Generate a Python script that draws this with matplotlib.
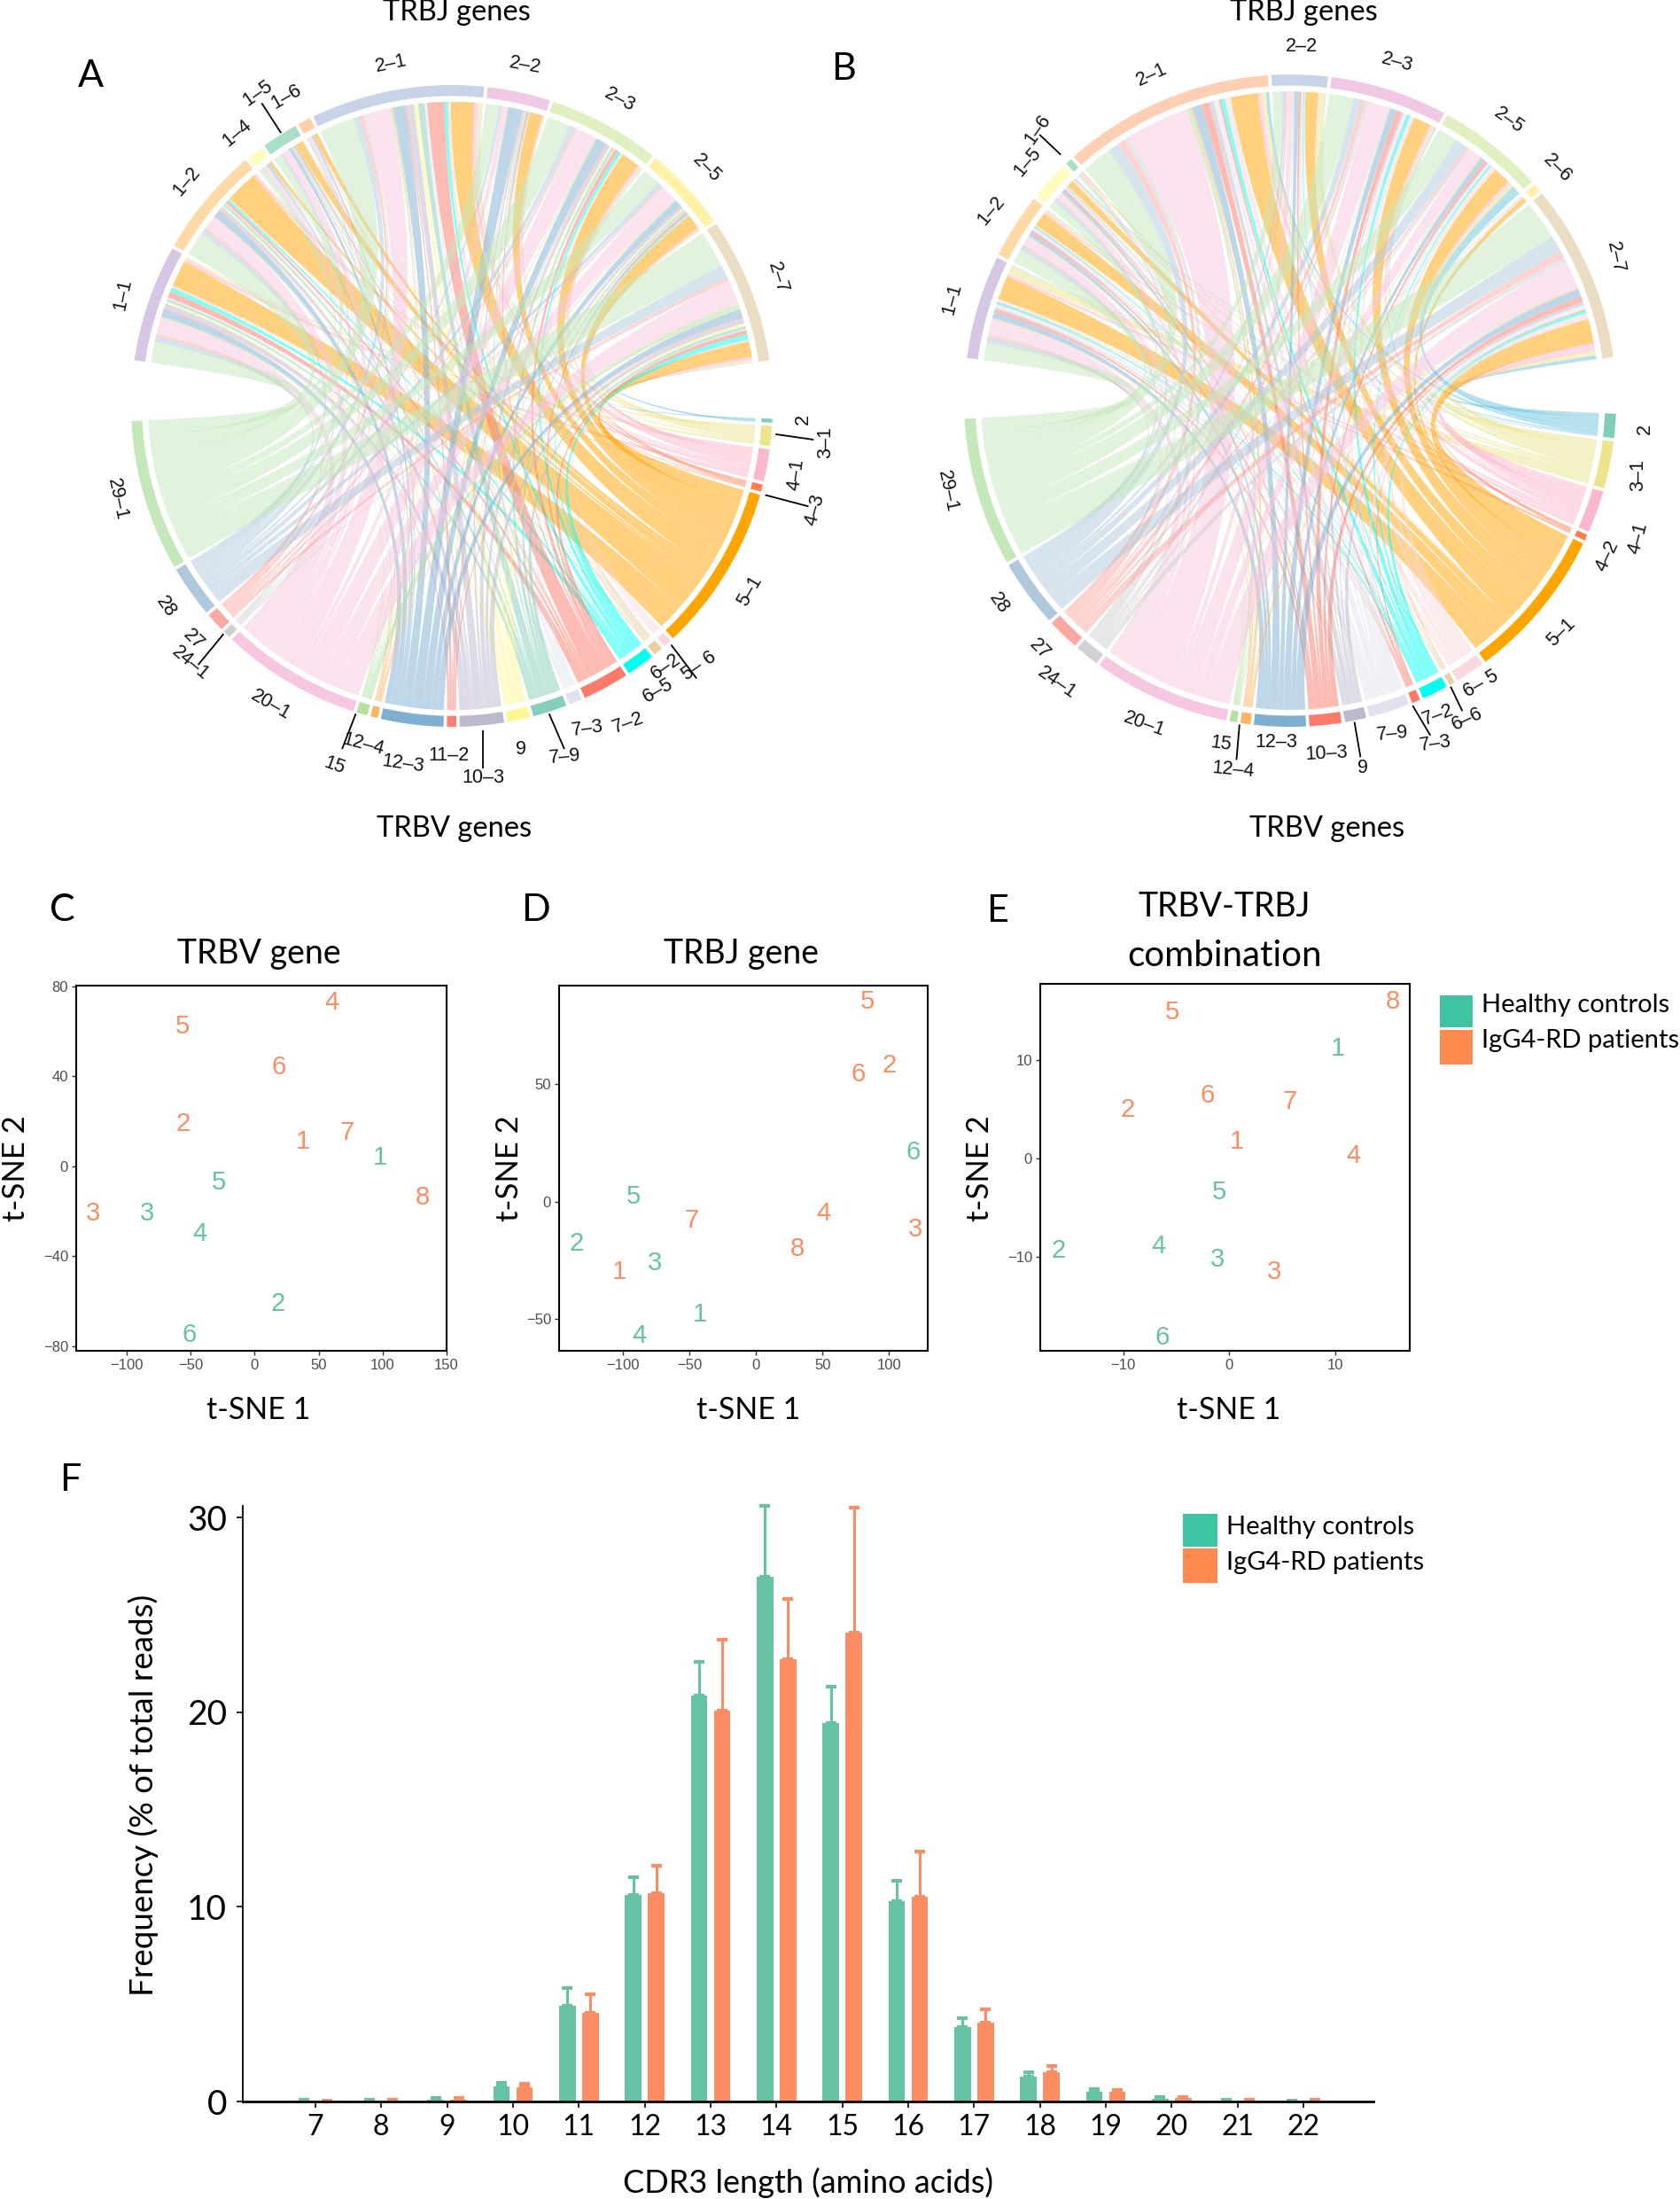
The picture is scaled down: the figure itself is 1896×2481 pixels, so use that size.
import numpy as np
import matplotlib
matplotlib.use("Agg")
import matplotlib.pyplot as plt
from matplotlib.path import Path
from matplotlib.patches import PathPatch, Rectangle

plt.rcParams['font.family'] = ['Liberation Sans', 'DejaVu Sans']
W, H = 1896, 2481
BIG = 'Lato'

# ---------------- chord data ----------------
A_J = ['1-1', '1-2', '1-4', '1-5', '1-6', '2-1', '2-2', '2-3', '2-5', '2-7']
A_J_SIZE = [21.2, 20, 3, 6.6, 2.4, 31.4, 11.4, 20.4, 15.4, 26.4]
A_V = ['2', '3-1', '4-1', '4-3', '5-1', '5-6', '6-2', '6-5', '7-2', '7-3', '7-9', '9', '10-3', '11-2',
       '12-3', '12-4', '15', '20-1', '24-1', '27', '28', '29-1']
A_V_SIZE = [0.7, 3.6, 5.8, 1.3, 30.3, 1.5, 1.7, 5.1, 8.4, 2.4, 6.2, 4.1, 8, 1.7, 11.3, 1.3, 2, 25.4, 1.4, 3.4, 9.4, 27.4]
A_LINKS = [
    [0, 4, 6, 1, 50, 2, 2, 8, 12, 3, 5, 4, 10, 2, 14, 1, 2, 30, 1, 5, 10, 40],
    [0, 2, 5, 1, 62, 1, 1, 4, 5, 2, 5, 3, 8, 1, 14, 1, 1, 25, 1, 4, 9, 45],
    [0, 0, 1, 0, 5, 0, 0, 1, 1, 0, 0, 0, 1, 0, 3, 0, 0, 8, 0, 0, 2, 8],
    [0, 1, 2, 0, 14, 0, 0, 1, 3, 0, 2, 1, 3, 0, 6, 0, 0, 14, 0, 1, 5, 14],
    [0, 0, 1, 0, 8, 0, 0, 0, 1, 0, 0, 0, 0, 0, 3, 0, 0, 6, 0, 0, 2, 3],
    [1, 6, 8, 2, 42, 3, 3, 6, 32, 5, 12, 8, 14, 3, 22, 2, 3, 50, 3, 6, 12, 65],
    [0, 2, 2, 1, 22, 1, 1, 1, 3, 1, 2, 1, 4, 1, 25, 0, 1, 10, 0, 1, 5, 24],
    [1, 4, 6, 1, 36, 2, 2, 6, 8, 2, 5, 4, 8, 2, 20, 1, 2, 40, 2, 4, 10, 45],
    [0, 3, 4, 1, 30, 1, 1, 3, 5, 2, 4, 3, 6, 1, 14, 1, 2, 35, 1, 3, 10, 35],
    [1, 4, 6, 1, 28, 2, 2, 10, 8, 2, 6, 5, 10, 2, 15, 1, 10, 45, 2, 6, 25, 70],
]
B_J = ['1-1', '1-2', '1-5', '1-6', '2-1', '2-2', '2-3', '2-5', '2-6', '2-7']
B_J_SIZE = [18.5, 11.6, 7.2, 1.2, 37.7, 10, 20.9, 19.1, 1.5, 31.7]
B_V = ['2', '3-1', '4-1', '4-2', '5-1', '6-5', '6-6', '7-2', '7-3', '7-9', '9', '10-3', '12-3', '12-4',
       '15', '20-1', '24-1', '27', '28', '29-1']
B_V_SIZE = [4.3, 8.4, 7.5, 1.1, 27.2, 5.3, 1.0, 4.6, 1.5, 7.3, 3.8, 5.7, 9.2, 1.8, 1.3, 24.5, 4.3, 5.7, 12.1, 26.5]
B_LINKS = [
    [1, 15, 4, 1, 40, 4, 1, 3, 1, 6, 3, 5, 10, 1, 1, 25, 3, 4, 8, 30],
    [1, 3, 4, 0, 24, 2, 0, 2, 1, 4, 2, 4, 6, 1, 1, 14, 2, 3, 7, 22],
    [2, 3, 3, 0, 12, 2, 0, 1, 1, 3, 1, 3, 5, 1, 1, 10, 1, 2, 7, 13],
    [0, 0, 0, 0, 2, 0, 0, 0, 0, 0, 0, 0, 0, 0, 0, 4, 0, 0, 2, 4],
    [5, 6, 6, 1, 40, 8, 1, 6, 3, 8, 7, 12, 14, 3, 6, 95, 8, 10, 18, 45],
    [1, 12, 2, 0, 24, 2, 0, 2, 0, 3, 2, 4, 8, 0, 2, 12, 1, 3, 6, 18],
    [2, 4, 6, 0, 32, 8, 0, 6, 1, 6, 4, 10, 12, 0, 2, 40, 6, 8, 14, 45],
    [16, 6, 6, 0, 30, 8, 1, 3, 0, 4, 2, 5, 8, 1, 1, 22, 3, 4, 22, 34],
    [1, 1, 0, 0, 8, 0, 0, 0, 0, 0, 0, 0, 0, 0, 0, 2, 0, 0, 0, 3],
    [7, 8, 14, 1, 42, 10, 1, 5, 2, 8, 6, 10, 14, 2, 1, 50, 8, 12, 30, 70],
]

A_J_COL = ['#D6C8E4', '#FFD9A6', '#FFFCC0', '#A9DFC6', '#FFCFA8', '#C8D3E8', '#F0C8E4', '#E0F0C0', '#FFF2A6', '#EADDC4']
A_V_COL = ['#7FCDBB', '#EDE58E', '#FBB8CA', '#FF7F50', '#FFA500', '#FBD8DC', '#E8D0A0', '#00FFF0', '#FB7A6A',
           '#E2E2EE', '#86CFBA', '#FFF890', '#BDB9CC', '#FB8072', '#7FB0D2', '#FDB462', '#B5E0A0', '#F7C6E0',
           '#D0D0D4', '#FBA8A0', '#B0C8DC', '#C5E8BB']
B_J_COL = ['#D6C8E4', '#FFD9A6', '#FFFCC0', '#A9DFC6', '#FFCFB4', '#C8D3E8', '#F0C8E4', '#E0F0C0', '#FFF2A6', '#EADDC4']
B_V_COL = ['#7FCDBB', '#EDE58E', '#FBB8CA', '#FF7F50', '#FFA500', '#FBD8DC', '#E8D0A0', '#00FFF0', '#FB7A6A',
           '#E2E2EE', '#BDB9CC', '#FB7A6A', '#7FB0D2', '#FDB462', '#B5E0A0', '#F7C6E0',
           '#D0D0D4', '#FBA8A0', '#B0C8DC', '#C5E8BB']
GENE2_CHORD = '#6CC5E0'   # links of V gene 2 are sky blue, unlike its ring

# ---------------- t-SNE data ----------------
C_OR_X = [38, -56, -126, 60, -56, 19, 72, 131]
C_OR_Y = [11, 19, -21, 73, 62, 44, 15, -14]
C_GR_X = [98, 18, -84, -43, -28, -51]
C_GR_Y = [4, -61, -21, -30, -7, -75]
D_OR_X = [-103, 100, 120, 51, 84, 77, -48, 31]
D_OR_Y = [-30, 58, -12, -5, 85, 54, -8, -20]
D_GR_X = [-42, -135, -76, -88, -92, 118]
D_GR_Y = [-48, -18, -26, -57, 2, 21]
E_OR_X = [0.7, -9.6, 4.2, 11.7, -5.4, -2.1, 5.7, 15.4]
E_OR_Y = [1.7, 5.0, -11.6, 0.3, 14.9, 6.4, 5.8, 16.0]
E_GR_X = [10.2, -16.1, -1.1, -6.7, -1.0, -6.3]
E_GR_Y = [11.2, -9.4, -10.3, -8.9, -3.4, -18.2]

# ---------------- CDR3 data ----------------
CDR3 = list(range(7, 23))
HC_MEAN = [0.05, 0.05, 0.10, 0.78, 4.94, 10.6, 20.85, 26.95, 19.45, 10.3, 3.84, 1.27, 0.49, 0.15, 0.05, 0.02]
HC_TOP = [0.08, 0.08, 0.16, 0.95, 5.82, 11.54, 22.6, 30.6, 21.3, 11.34, 4.28, 1.49, 0.66, 0.22, 0.08, 0.03]
PT_MEAN = [0.02, 0.03, 0.10, 0.71, 4.57, 10.7, 20.07, 22.7, 24.1, 10.54, 4.03, 1.49, 0.51, 0.17, 0.05, 0.05]
PT_TOP = [0.05, 0.08, 0.18, 0.93, 5.5, 12.13, 23.74, 25.8, 30.5, 12.84, 4.74, 1.83, 0.61, 0.24, 0.08, 0.09]

GREEN, ORANGE = '#66C2A5', '#FC8D62'
LEG_G, LEG_O = '#3EC4A4', '#FF8A50'

fig = plt.figure(figsize=(W / 100, H / 100), dpi=100, facecolor='white')
ov = fig.add_axes([0, 0, 1, 1], zorder=0)
ov.set_xlim(0, W); ov.set_ylim(H, 0); ov.axis('off')


def layout(sizes, start, gap=0.6):
    spans, a = [], start
    for s in sizes:
        spans.append((a, a - s))
        a -= s + gap
    return spans


def arc_pts(cx, cy, r, a0, a1, n=None):
    n = n or max(3, int(abs(a1 - a0) * 2) + 2)
    t = np.radians(np.linspace(a0, a1, n))
    return np.column_stack([cx + r * np.cos(t), cy - r * np.sin(t)])


def chord(cx, cy, r, ja, va, col):
    p1 = arc_pts(cx, cy, r, ja[0], ja[1])
    p2 = arc_pts(cx, cy, r, va[0], va[1])
    verts = list(map(tuple, p1)) + [(cx, cy), tuple(p2[0])] + list(map(tuple, p2[1:])) + [(cx, cy), tuple(p1[0])]
    codes = [Path.MOVETO] + [Path.LINETO] * (len(p1) - 1) + [Path.CURVE3, Path.CURVE3] + \
            [Path.LINETO] * (len(p2) - 1) + [Path.CURVE3, Path.CURVE3]
    ov.add_patch(PathPatch(Path(verts, codes), facecolor=col, edgecolor='none', alpha=0.5, lw=0))


def ring(cx, cy, r0, r1, span, col):
    o = arc_pts(cx, cy, r1, span[0], span[1])
    i = arc_pts(cx, cy, r0, span[1], span[0])
    ov.fill(np.r_[o[:, 0], i[:, 0]], np.r_[o[:, 1], i[:, 1]], color=col, lw=0)


def chord_panel(cx, cy, R, J, V, jsize, vsize, links, jcol, vcol, jstart, vstart):
    links = np.array(links, float)
    jsp = layout(jsize, jstart)
    vsp = layout(vsize, vstart)
    rc = R * 0.948
    jw = links / links.sum(axis=1, keepdims=True) * np.array(jsize)[:, None]
    vw = links / links.sum(axis=0, keepdims=True) * np.array(vsize)[None, :]
    jend = {}
    for i in range(len(J)):
        a = jsp[i][0]
        for k in range(len(V) - 1, -1, -1):
            jend[i, k] = (a, a - jw[i, k]); a -= jw[i, k]
    vend = {}
    for k in range(len(V)):
        a = vsp[k][0]
        for i in range(len(J) - 1, -1, -1):
            vend[i, k] = (a, a - vw[i, k]); a -= vw[i, k]
    for i in range(len(J)):
        for k in range(len(V)):
            if links[i, k] > 0:
                chord(cx, cy, rc, jend[i, k], vend[i, k], GENE2_CHORD if V[k] == '2' else vcol[k])
    for s, c in zip(jsp, jcol):
        ring(cx, cy, R * 0.966, R, s, c)
    for s, c in zip(vsp, vcol):
        ring(cx, cy, R * 0.966, R, s, c)


chord_panel(510, 458, 362, A_J, A_V, A_J_SIZE, A_V_SIZE, A_LINKS, A_J_COL, A_V_COL, 171.8, -2.3)
chord_panel(1456, 452, 368, B_J, B_V, B_J_SIZE, B_V_SIZE, B_LINKS, B_J_COL, B_V_COL, 172.5, -2.3)

def A_xy(zx, zy): return 60 + zx / 1.742, zy / 1.633
def B_xy(zx, zy): return 1000 + zx / 1.75, zy / 1.633

A_LABELS = [('1-1', 138, 542, 78), ('1-2', 262, 335, 50), ('1-4', 362, 245, 40), ('1-5', 402, 172, 35), ('1-6', 458, 178, 30),
            ('2-1', 665, 117, 12), ('2-2', 928, 120, -10), ('2-3', 1113, 184, -28), ('2-5', 1285, 310, -45), ('2-7', 1425, 512, -72),
            ('2', 1475, 772, 90), ('3-1', 1518, 815, 90), ('4-1', 1460, 875, 82), ('4-3', 1497, 940, 75), ('5-1', 1370, 1088, 60),
            ('5- 6', 1270, 1227, 35), ('6-2', 1205, 1228, 35), ('6-5', 1190, 1272, 30), ('7-2', 1130, 1332, 20),
            ('7-3', 1050, 1342, 8), ('7-9', 1005, 1395, 5), ('9', 920, 1380, 0), ('10-3', 845, 1433, 0), ('11-2', 778, 1392, 0),
            ('12-3', 688, 1408, -8), ('12-4', 610, 1372, -15), ('15', 553, 1410, -20), ('20-1', 428, 1298, -30),
            ('24-1', 270, 1222, -40), ('27', 275, 1178, -45), ('28', 222, 1118, -55), ('29-1', 125, 920, -78)]
A_LEADERS = [(448, 245, 410, 190), (1215, 1188, 1265, 1250), (1420, 800, 1495, 810), (1400, 912, 1485, 933),
             (975, 1315, 1005, 1380), (845, 1345, 845, 1415), (595, 1315, 568, 1380), (335, 1168, 285, 1225)]
B_LABELS = [('1-1', 130, 550, 75), ('1-2', 208, 388, 50), ('1-5', 280, 298, 50), ('1-6', 300, 238, 55), ('2-1', 525, 138, 25),
            ('2-2', 820, 85, 0), ('2-3', 1010, 115, -15), ('2-5', 1230, 222, -35), ('2-6', 1325, 310, -45), ('2-7', 1440, 475, -78),
            ('2', 1498, 790, 90), ('3-1', 1485, 875, 90), ('4-1', 1485, 992, 75), ('4-2', 1425, 1025, 65), ('5-1', 1333, 1165, 45),
            ('6- 5', 1175, 1260, 30), ('6-6', 1148, 1325, 25), ('7-2', 1090, 1318, 20), ('7-3', 1085, 1370, 8), ('7-9', 1000, 1352, 5),
            ('9', 942, 1415, 0), ('10-3', 870, 1388, 3), ('12-3', 770, 1368, 0), ('12-4', 685, 1418, -5), ('15', 662, 1370, -8),
            ('20-1', 510, 1335, -20), ('24-1', 337, 1258, -35), ('27', 303, 1197, -45), ('28', 222, 1112, -55), ('29-1', 122, 905, -78)]
B_LEADERS = [(345, 285, 303, 248), (698, 1335, 692, 1400), (925, 1330, 937, 1395), (1040, 1300, 1075, 1355), (1115, 1265, 1138, 1310)]

for labs, leads, f in ((A_LABELS, A_LEADERS, A_xy), (B_LABELS, B_LEADERS, B_xy)):
    for t, zx, zy, rot in labs:
        x, y = f(zx, zy)
        ov.text(x, y, t.replace('-', '\u2013'), fontsize=15.5, rotation=rot, ha='center', va='center',
                rotation_mode='anchor', color='#111111')
    for x0, y0, x1, y1 in leads:
        a, b = f(x0, y0), f(x1, y1)
        ov.plot([a[0], b[0]], [a[1], b[1]], color='black', lw=1.3, solid_capstyle='butt')

for t, x, y, fs in [('TRBJ genes', 515, 14, 23.5), ('TRBV genes', 513, 935, 23.5),
                    ('TRBJ genes', 1471, 14, 23.5), ('TRBV genes', 1498, 935, 23.5),
                    ('TRBV gene', 292, 1076, 27), ('TRBJ gene', 837, 1076, 27),
                    ('TRBV-TRBJ', 1382, 1023, 27), ('combination', 1382, 1078, 29),
                    ('t-SNE 1', 292, 1591, 24.5), ('t-SNE 1', 845, 1591, 24.5), ('t-SNE 1', 1387, 1591, 24.5),
                    ('CDR3 length (amino acids)', 912, 2463, 26)]:
    ov.text(x, y, t, fontsize=fs, family=BIG, ha='center', va='center', color='black')
for x in (18, 575, 1106):
    ov.text(x, 1318, 't-SNE 2', fontsize=25, family=BIG, rotation=90, ha='center', va='center', color='black')
ov.text(162, 2025, 'Frequency (% of total reads)', fontsize=26.5, family=BIG, rotation=90, ha='center', va='center')
for t, x, y in [('A', 102, 86), ('B', 952, 78), ('C', 70, 1027), ('D', 605, 1027), ('E', 1126, 1028), ('F', 79, 1670)]:
    ov.text(x, y, t, fontsize=31, family=BIG, ha='center', va='center')

for x0, x1, y0, y1, ty1, ty2 in [(1624.6, 1661.7, 1122.6, 1159.4, 1134, 1174), (1335.5, 1374, 1707.6, 1744.6, 1723, 1763)]:
    ov.add_patch(Rectangle((x0, y0), x1 - x0, y1 - y0, color=LEG_G, lw=0))
    ov.add_patch(Rectangle((x0, y1 + 2.5), x1 - x0, y1 - y0 + 2, color=LEG_O, lw=0))
    ov.text(x1 + 10, ty1, 'Healthy controls', fontsize=21, family=BIG, va='center', ha='left')
    ov.text(x1 + 10, ty2, 'IgG4-RD patients', fontsize=21, family=BIG, va='center', ha='left')


def px_axes(l, r, t, b):
    return fig.add_axes([l / W, 1 - b / H, (r - l) / W, (b - t) / H], zorder=2)


def tsne(box, xlim, ylim, xt, yt, ox, oy, gx, gy):
    ax = px_axes(*box)
    ax.patch.set_alpha(0)
    ax.set_xlim(*xlim); ax.set_ylim(*ylim)
    ax.set_xticks(xt); ax.set_yticks(yt)
    ax.tick_params(labelsize=12, colors='#4D4D4D', length=3.5, width=1, pad=3)
    ax.tick_params(axis='both', color='#333333')
    for s in ax.spines.values():
        s.set_linewidth(1.5); s.set_color('black')
    for i, (x, y) in enumerate(zip(ox, oy)):
        ax.text(x, y, str(i + 1), color=ORANGE, fontsize=21, ha='center', va='center')
    for i, (x, y) in enumerate(zip(gx, gy)):
        ax.text(x, y, str(i + 1), color=GREEN, fontsize=21, ha='center', va='center')
    return ax


tsne((86, 504, 1112, 1524), (-139.3, 150), (-82, 80.3), [-100, -50, 0, 50, 100, 150], [-80, -40, 0, 40, 80],
     C_OR_X, C_OR_Y, C_GR_X, C_GR_Y)
tsne((631, 1047.4, 1112, 1524), (-148, 129.4), (-63.5, 91.8), [-100, -50, 0, 50, 100], [-50, 0, 50],
     D_OR_X, D_OR_Y, D_GR_X, D_GR_Y)
tsne((1174, 1591.4, 1110, 1524), (-17.8, 17), (-19.6, 17.8), [-10, 0, 10], [-10, 0, 10],
     E_OR_X, E_OR_Y, E_GR_X, E_GR_Y)

ax = px_axes(274, 1550, 1699, 2371)
ax.patch.set_alpha(0)
ax.set_xlim(5.9, 23.06); ax.set_ylim(0, 30.6)
x = np.array(CDR3, float)
off, w = 0.175, 0.25
ax.bar(x - off, HC_MEAN, w, color=GREEN, lw=0)
ax.bar(x + off, PT_MEAN, w, color=ORANGE, lw=0)
for xx, m, t, c in [(x - off, HC_MEAN, HC_TOP, GREEN), (x + off, PT_MEAN, PT_TOP, ORANGE)]:
    err = np.array(t) - np.array(m)
    ax.errorbar(xx, m, yerr=[np.zeros_like(err), err], fmt='none', ecolor=c, elinewidth=2.2, capsize=4.5, capthick=3,
                clip_on=False)
ax.set_xticks(CDR3); ax.set_yticks([0, 10, 20, 30])
ax.spines['top'].set_visible(False); ax.spines['right'].set_visible(False)
ax.spines['left'].set_linewidth(1.3); ax.spines['bottom'].set_linewidth(2)
ax.tick_params(axis='x', labelsize=23, length=5, width=1.2, pad=5)
ax.tick_params(axis='y', labelsize=28, length=5, width=1.2, pad=8)
for t in ax.get_xticklabels() + ax.get_yticklabels():
    t.set_family(BIG)

fig.savefig('out.png', dpi=100, facecolor='white')
